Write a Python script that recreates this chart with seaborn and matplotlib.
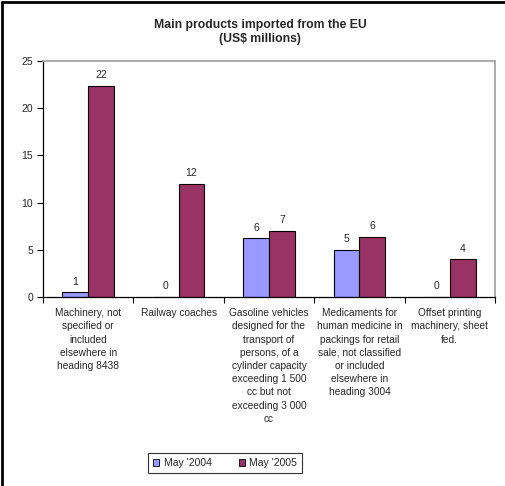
import matplotlib
matplotlib.use("Agg")
import matplotlib.pyplot as plt
from matplotlib.lines import Line2D
from matplotlib.patches import Patch
import seaborn as sns
import pandas as pd
import numpy as np

# data
products = [
    "Machinery, not\nspecified or\nincluded\nelsewhere in\nheading 8438",
    "Railway coaches",
    "Gasoline vehicles\ndesigned for the\ntransport of\npersons, of a\ncylinder capacity\nexceeding 1 500\ncc but not\nexceeding 3 000\ncc",
    "Medicaments for\nhuman medicine in\npackings for retail\nsale, not classified\nor included\nelsewhere in\nheading 3004",
    "Offset printing\nmachinery, sheet\nfed.",
]
may_2004 = [0.5, 0.0, 6.2, 5.0, 0.0]
may_2005 = [22.4, 12.0, 7.0, 6.4, 4.0]
periods = ["May '2004", "May '2005"]
colors = ["#9999FF", "#993366"]

df = pd.DataFrame({
    "product": products * 2,
    "period": [periods[0]] * 5 + [periods[1]] * 5,
    "value": may_2004 + may_2005,
})

sns.set_style("white")
plt.rcParams["font.family"] = ["Liberation Sans", "DejaVu Sans"]

fig = plt.figure(figsize=(5.06, 4.86), dpi=100)
ax = fig.add_axes([43 / 506, 1 - 297 / 486, 452 / 506, 236 / 486])

sns.barplot(data=df, x="product", y="value", hue="period", palette=colors,
            width=0.571, edgecolor="black", linewidth=0.8, saturation=1,
            legend=False, ax=ax)

for cont in ax.containers:
    vals = [b.get_height() for b in cont]
    ax.bar_label(cont, labels=[str(int(np.floor(v + 0.5))) for v in vals],
                 padding=4, fontsize=7.5)

ax.set_xlim(-0.5, 4.5)
ax.set_ylim(0, 25)
ax.set_yticks([0, 5, 10, 15, 20, 25])
ax.set_xlabel("")
ax.set_ylabel("")
ax.tick_params(axis="y", which="major", left=True, length=4, width=0.8,
               labelsize=7.5, pad=3, color="black")
ax.set_xticks(np.arange(-0.5, 5.0, 1.0), minor=True)
ax.tick_params(axis="x", which="minor", bottom=True, length=4, width=0.8,
               color="black")
ax.tick_params(axis="x", which="major", length=0, labelsize=7.3, pad=8)
for lab in ax.get_xticklabels():
    lab.set_linespacing(1.4)
    lab.set_verticalalignment("top")

for s in ["left", "bottom"]:
    ax.spines[s].set_color("black")
    ax.spines[s].set_linewidth(0.9)
for s in ["top", "right"]:
    ax.spines[s].set_color("#A6A6A6")
    ax.spines[s].set_linewidth(1.3)

fig.text(260 / 506, 1 - 32 / 486, "Main products imported from the EU\n(US$ millions)",
         ha="center", va="center", fontsize=8.8, fontweight="bold", linespacing=1.3)

handles = [Patch(facecolor=c, edgecolor="black", linewidth=0.6) for c in colors]
leg = fig.legend(handles, periods, loc="center", bbox_to_anchor=(225 / 506, 1 - 463 / 486),
                 ncol=2, fontsize=7.5, frameon=True, fancybox=False,
                 handlelength=0.6, handleheight=0.6, handletextpad=0.4,
                 columnspacing=2.6, borderpad=0.45, borderaxespad=0)
leg.get_frame().set_edgecolor("black")
leg.get_frame().set_linewidth(0.8)

# outer chart border (left and top)
fig.add_artist(Line2D([2 / 506, 2 / 506], [0, 1 - 2 / 486], color="black", lw=2))
fig.add_artist(Line2D([2 / 506, 1], [1 - 2 / 486, 1 - 2 / 486], color="black", lw=2))

fig.savefig("out.png", dpi=100)
